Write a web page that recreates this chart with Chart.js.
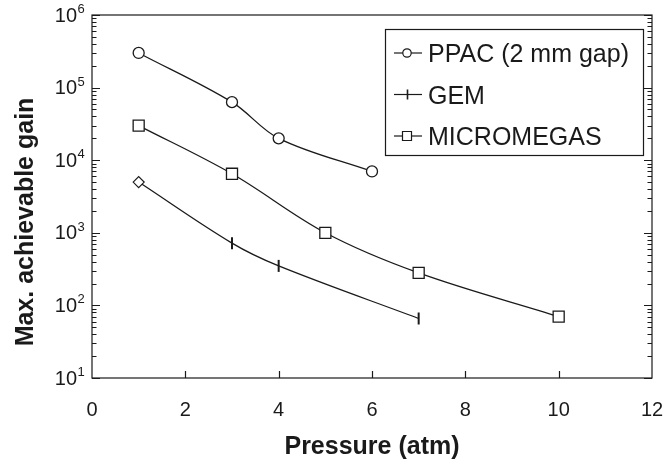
<!DOCTYPE html>
<html>
<head>
<meta charset="utf-8">
<script src="https://cdn.jsdelivr.net/npm/chart.js@4.4.1/dist/chart.umd.min.js"></script>
<style>
  html, body { margin: 0; padding: 0; background: #fff; }
  #wrap { width: 664px; height: 466px; }
</style>
</head>
<body>
<div id="wrap"><canvas id="gainChart" width="664" height="466"></canvas></div>
<script>
// pressure (atm) vs max. achievable gain
const ppacPressure = [1, 3, 4, 6];
const ppacGain = [3.0e5, 6.3e4, 2.0e4, 7.0e3];
const gemPressure = [1, 3, 4, 7];
const gemGain = [5.0e3, 7.2e2, 3.5e2, 66];
const mmPressure = [1, 3, 5, 7, 10];
const mmGain = [3.0e4, 6.5e3, 1.0e3, 2.8e2, 70];

const seriesLabels = ['PPAC (2 mm gap)', 'GEM', 'MICROMEGAS'];
const xTickValues = [0, 2, 4, 6, 8, 10, 12];
const yTickExponents = [1, 2, 3, 4, 5, 6];
const xTitle = 'Pressure (atm)';
const yTitle = 'Max. achievable gain';

const INK = '#1a1a1a';
const FONT = '"Liberation Sans", Arial, sans-serif';

const toPoints = (xs, ys) => xs.map((x, i) => ({ x: x, y: ys[i] }));

// frame, inward ticks, labels, titles and the boxed legend
const framePlugin = {
    id: 'frame',
    afterDraw(chart) {
        const ctx = chart.ctx;
        const area = chart.chartArea;
        const xs = chart.scales.x;
        const ys = chart.scales.y;
        ctx.save();
        ctx.strokeStyle = INK;
        ctx.fillStyle = INK;
        ctx.lineWidth = 1.2;

        ctx.strokeRect(area.left, area.top, area.right - area.left, area.bottom - area.top);

        // x ticks (bottom only)
        ctx.beginPath();
        xTickValues.forEach(v => {
            if (v === xTickValues[0] || v === xTickValues[xTickValues.length - 1]) return;
            const px = Math.round(xs.getPixelForValue(v)) + 0.5;
            ctx.moveTo(px, area.bottom);
            ctx.lineTo(px, area.bottom - 7);
        });
        // y ticks, left and right, major + minor
        yTickExponents.forEach(e => {
            const base = Math.pow(10, e);
            const py = Math.round(ys.getPixelForValue(base)) + 0.5;
            ctx.moveTo(area.left, py); ctx.lineTo(area.left + 8, py);
            ctx.moveTo(area.right, py); ctx.lineTo(area.right - 8, py);
            if (e === yTickExponents[yTickExponents.length - 1]) return;
            for (let m = 2; m <= 9; m++) {
                const my = Math.round(ys.getPixelForValue(m * base)) + 0.5;
                ctx.moveTo(area.left, my); ctx.lineTo(area.left + 4.5, my);
                ctx.moveTo(area.right, my); ctx.lineTo(area.right - 4.5, my);
            }
        });
        ctx.stroke();

        // x tick labels
        ctx.font = '20px ' + FONT;
        ctx.textAlign = 'center';
        ctx.textBaseline = 'middle';
        xTickValues.forEach(v => {
            ctx.fillText(String(v), xs.getPixelForValue(v), 410);
        });

        // y tick labels as 10 with raised exponent
        yTickExponents.forEach(e => {
            const py = ys.getPixelForValue(Math.pow(10, e));
            ctx.font = '20px ' + FONT;
            ctx.textAlign = 'right';
            ctx.textBaseline = 'middle';
            ctx.fillText('10', 77, py + 1);
            ctx.font = '13px ' + FONT;
            ctx.textAlign = 'left';
            ctx.textBaseline = 'alphabetic';
            ctx.fillText(String(e), 77.5, py - 2);
        });

        // axis titles
        ctx.font = 'bold 25px ' + FONT;
        ctx.textAlign = 'center';
        ctx.textBaseline = 'alphabetic';
        ctx.fillText(xTitle, (area.left + area.right) / 2, 454);
        ctx.save();
        ctx.translate(33, 222);
        ctx.rotate(-Math.PI / 2);
        ctx.fillText(yTitle, 0, 0);
        ctx.restore();

        // legend
        ctx.lineWidth = 1.2;
        ctx.strokeRect(385.5, 29.5, 258, 126);
        const rows = [62, 103.5, 145];
        ctx.font = '25px ' + FONT;
        ctx.textAlign = 'left';
        ctx.textBaseline = 'alphabetic';
        seriesLabels.forEach((label, i) => {
            const cy = rows[i] - 9;
            ctx.beginPath();
            ctx.moveTo(394, cy);
            ctx.lineTo(422, cy);
            ctx.stroke();
            ctx.beginPath();
            if (i === 0) {
                ctx.arc(407, cy, 4.2, 0, Math.PI * 2);
                ctx.fillStyle = '#fff'; ctx.fill();
                ctx.stroke();
            } else if (i === 1) {
                ctx.lineWidth = 1.6;
                ctx.moveTo(407.5, cy - 5);
                ctx.lineTo(407.5, cy + 5);
                ctx.stroke();
                ctx.lineWidth = 1.2;
            } else {
                ctx.rect(402.5, cy - 4.5, 9, 9);
                ctx.fillStyle = '#fff'; ctx.fill();
                ctx.stroke();
            }
            ctx.fillStyle = INK;
            ctx.fillText(label, 428, rows[i]);
        });
        ctx.restore();
    }
};

const common = {
    borderColor: INK,
    borderWidth: 1.3,
    tension: 0.35,
    pointBackgroundColor: '#fff',
    pointBorderColor: INK,
    fill: false
};

new Chart(document.getElementById('gainChart').getContext('2d'), {
    type: 'line',
    data: {
        datasets: [
            Object.assign({}, common, {
                label: seriesLabels[0],
                data: toPoints(ppacPressure, ppacGain),
                pointStyle: 'circle',
                pointRadius: 5.5,
                pointBorderWidth: 1.3
            }),
            Object.assign({}, common, {
                label: seriesLabels[1],
                data: toPoints(gemPressure, gemGain),
                pointStyle: ['rectRot', 'line', 'line', 'line'],
                pointRotation: [0, 90, 90, 90],
                pointRadius: [5.5, 6, 6, 6],
                pointBorderWidth: [1.2, 2, 2, 2]
            }),
            Object.assign({}, common, {
                label: seriesLabels[2],
                data: toPoints(mmPressure, mmGain),
                pointStyle: 'rect',
                pointRadius: 7.8,
                pointBorderWidth: 1.3
            })
        ]
    },
    options: {
        responsive: false,
        animation: false,
        layout: { padding: { left: 92, right: 12, top: 15, bottom: 88 } },
        plugins: {
            legend: { display: false },
            tooltip: { enabled: false }
        },
        scales: {
            x: { type: 'linear', min: 0, max: 12, display: false },
            y: { type: 'logarithmic', min: 10, max: 1e6, display: false }
        }
    },
    plugins: [framePlugin]
});
</script>
</body>
</html>
